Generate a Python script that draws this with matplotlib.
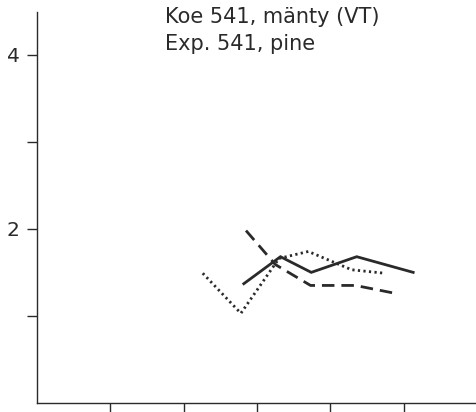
import matplotlib
matplotlib.use("Agg")
import matplotlib.pyplot as plt

solid_x = [2.82, 3.32, 3.74, 4.36, 5.13]
solid_y = [1.37, 1.68, 1.50, 1.68, 1.50]
dashed_x = [2.85, 3.25, 3.73, 4.34, 4.88]
dashed_y = [1.98, 1.59, 1.35, 1.35, 1.26]
dotted_x = [2.26, 2.78, 3.30, 3.70, 4.29, 4.74]
dotted_y = [1.49, 1.03, 1.66, 1.74, 1.53, 1.49]
yticks_major = [2, 4]
yticks_minor = [1, 3]
xticks = [1, 2, 3, 4, 5]
title_lines = ["Koe 541, mänty (VT)", "Exp. 541, pine"]

plt.rcParams['font.family'] = ['DejaVu Sans']
fig = plt.figure(figsize=(4.77, 4.12), dpi=100)
ax = fig.add_axes([37/477, (412-403)/412, (477-37)/477, (403-12)/412])
c = '#2a2a2a'
ax.plot(solid_x, solid_y, color=c, lw=2.0, solid_joinstyle='miter')
ax.plot(dashed_x, dashed_y, color=c, lw=2.0, dashes=(4.5, 2.5))
ax.plot(dotted_x, dotted_y, color=c, lw=2.0, dashes=(0.8, 1.2))
ax.set_xlim(0, 6)
ax.set_ylim(0, 4.49)
for s in ['top', 'right']:
    ax.spines[s].set_visible(False)
for s in ['left', 'bottom']:
    ax.spines[s].set_color(c)
    ax.spines[s].set_linewidth(1.0)
ax.set_xticks(xticks)
ax.set_xticklabels([])
ax.set_yticks(yticks_major)
ax.set_yticks(yticks_minor, minor=True)
ax.tick_params(axis='both', which='both', direction='out', length=7.5, width=1.0, color=c)
ax.tick_params(axis='y', labelsize=14.5, labelcolor=c, pad=5)
fig.text(165/477, 1-17/412, title_lines[0], fontsize=15, color=c, va='center', ha='left')
fig.text(165/477, 1-44/412, title_lines[1], fontsize=15, color=c, va='center', ha='left')
fig.savefig('out.png', dpi=100)
